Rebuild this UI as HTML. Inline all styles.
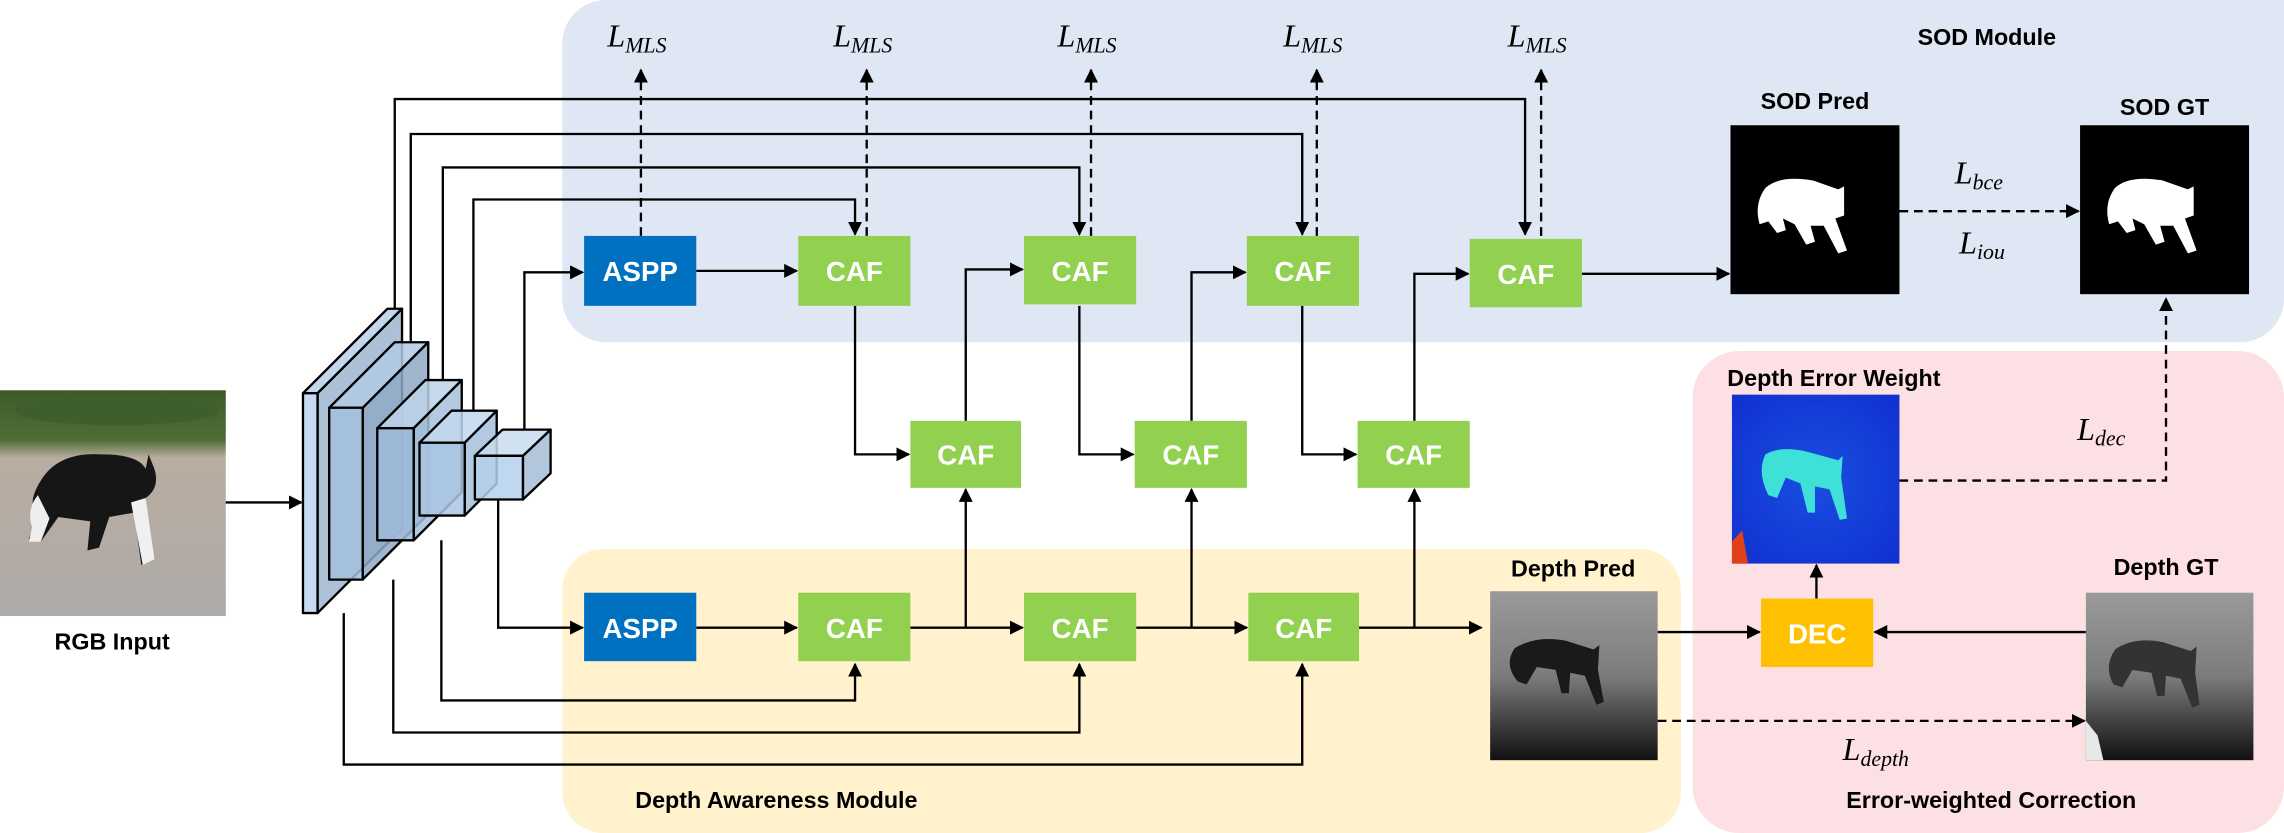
<!DOCTYPE html>
<html><head><meta charset="utf-8"><style>
html,body{margin:0;padding:0;background:#fff;width:2284px;height:833px;overflow:hidden;}
svg{display:block;}
.lbl{font-family:"Liberation Sans",sans-serif;font-weight:bold;font-size:16px;fill:#000;}
.bx{font-family:"Liberation Sans",sans-serif;font-weight:bold;font-size:19px;fill:#fff;}
.m{font-family:"Liberation Serif",serif;font-style:italic;font-size:22px;fill:#000;}
.ms{font-size:15px;}
</style></head><body>
<svg width="2284" height="833" viewBox="0 0 1568 572" preserveAspectRatio="none" xmlns="http://www.w3.org/2000/svg">
<defs>
<marker id="a" viewBox="0 0 10 10" refX="9" refY="5" markerWidth="6" markerHeight="6" orient="auto-start-reverse"><path d="M0,0 L10,5 L0,10 z" fill="#000"/></marker>
<linearGradient id="road" x1="0" y1="0" x2="0" y2="1"><stop offset="0" stop-color="#3d5a2a"/><stop offset="0.22" stop-color="#4f6e35"/><stop offset="0.3" stop-color="#b9ada0"/><stop offset="1" stop-color="#aeaaa8"/></linearGradient>
<linearGradient id="dep" x1="0" y1="0" x2="0" y2="1"><stop offset="0" stop-color="#9a9a9a"/><stop offset="0.5" stop-color="#7c7c7c"/><stop offset="1" stop-color="#101010"/></linearGradient>
<radialGradient id="dew" cx="0.5" cy="0.5" r="0.7"><stop offset="0" stop-color="#1a4ee0"/><stop offset="1" stop-color="#1030d0"/></radialGradient>
</defs>
<!-- panels -->
<rect x="386" y="0" width="1182" height="235" rx="30" fill="#dfe7f4"/>
<rect x="1500" y="0" width="68" height="60" fill="#dfe7f4"/>
<rect x="386" y="377" width="768" height="195" rx="28" fill="#fff2cc"/>
<rect x="1162" y="241" width="406" height="331" rx="32" fill="#fde0e3"/>

<!-- RGB input image -->
<rect x="0" y="268" width="155" height="155" fill="url(#road)"/>
<ellipse cx="80" cy="282" rx="70" ry="10" fill="#3e5f2c"/>
<path d="M28,330 Q40,310 70,312 Q95,312 100,322 L102,312 L106,322 Q110,335 100,342 L104,385 L97,388 L92,352 L75,355 L68,376 L60,378 L62,358 L40,355 L28,372 L20,370 L26,352 Q18,346 28,330 z" fill="#161616"/>
<path d="M26,340 Q18,350 22,362 L20,372 L28,372 L34,356 z" fill="#eee"/>
<path d="M90,345 L100,342 L106,384 L98,388 z" fill="#f0f0f0"/>

<!-- backbone slabs -->
<g stroke="#000" stroke-width="1.6" stroke-linejoin="round">
<g fill-opacity="0.85">
<path d="M218,270 L276,212 L276,363 L218,421 z" fill="#9fb6cf"/>
<path d="M208,270 L266,212 L276,212 L218,270 z" fill="#b8d0ea"/>
<rect x="208" y="270" width="10" height="151" fill="#bcd5ee"/>
<path d="M249,280 L294,235 L294,353 L249,398 z" fill="#8fa9c6"/>
<path d="M226,280 L271,235 L294,235 L249,280 z" fill="#b0c9e3"/>
<rect x="226" y="280" width="23" height="118" fill="#a3c0dd"/>
<path d="M284,294 L317,261 L317,338 L284,371 z" fill="#a5bfd9"/>
<path d="M259,294 L292,261 L317,261 L284,294 z" fill="#bcd3ea"/>
<rect x="259" y="294" width="25" height="77" fill="#9dbcdb"/>
<path d="M319,304 L341,282 L341,332 L319,354 z" fill="#a5bfd9"/>
<path d="M288,304 L310,282 L341,282 L319,304 z" fill="#c2d8ee"/>
<rect x="288" y="304" width="31" height="50" fill="#a9c6e3"/>
<path d="M359,313 L378,295 L378,325 L359,343 z" fill="#a5bdd6"/>
<path d="M326,313 L345,295 L378,295 L359,313 z" fill="#c8dcf0"/>
<rect x="326" y="313" width="33" height="30" fill="#b4d0ec"/>
</g>
</g>

<!-- connectors -->
<g stroke="#000" stroke-width="1.6" fill="none">
<line x1="155" y1="345" x2="207" y2="345" marker-end="url(#a)"/>
<polyline points="271,212 271,68 1047,68 1047,161" marker-end="url(#a)"/>
<polyline points="282,235 282,92 894,92 894,161" marker-end="url(#a)"/>
<polyline points="304,261 304,115 741,115 741,161" marker-end="url(#a)"/>
<polyline points="325,282 325,137 587,137 587,161" marker-end="url(#a)"/>
<polyline points="360,295 360,187 400,187" marker-end="url(#a)"/>
<polyline points="342,343 342,431 400,431" marker-end="url(#a)"/>
<polyline points="303,371 303,481 587,481 587,456" marker-end="url(#a)"/>
<polyline points="270,398 270,503 741,503 741,456" marker-end="url(#a)"/>
<polyline points="236,421 236,525 894,525 894,456" marker-end="url(#a)"/>
<line x1="478" y1="186" x2="547" y2="186" marker-end="url(#a)"/>
<polyline points="587,210 587,312 624,312" marker-end="url(#a)"/>
<polyline points="663,289 663,185 702,185" marker-end="url(#a)"/>
<polyline points="741,210 741,312 778,312" marker-end="url(#a)"/>
<polyline points="818,289 818,187 855,187" marker-end="url(#a)"/>
<polyline points="894,210 894,312 931,312" marker-end="url(#a)"/>
<polyline points="971,289 971,188 1008,188" marker-end="url(#a)"/>
<line x1="1086" y1="188" x2="1187" y2="188" marker-end="url(#a)"/>
<line x1="478" y1="431" x2="547" y2="431" marker-end="url(#a)"/>
<line x1="625" y1="431" x2="702" y2="431" marker-end="url(#a)"/>
<line x1="780" y1="431" x2="856" y2="431" marker-end="url(#a)"/>
<line x1="933" y1="431" x2="1017" y2="431" marker-end="url(#a)"/>
<line x1="663" y1="431" x2="663" y2="336" marker-end="url(#a)"/>
<line x1="818" y1="431" x2="818" y2="336" marker-end="url(#a)"/>
<line x1="971" y1="431" x2="971" y2="336" marker-end="url(#a)"/>
<line x1="1138" y1="434" x2="1208" y2="434" marker-end="url(#a)"/>
<line x1="1432" y1="434" x2="1287" y2="434" marker-end="url(#a)"/>
<line x1="1247" y1="411" x2="1247" y2="388" marker-end="url(#a)"/>
</g>
<g stroke="#000" stroke-width="1.6" fill="none" stroke-dasharray="6,4">
<line x1="440" y1="162" x2="440" y2="48" marker-end="url(#a)"/>
<line x1="595" y1="162" x2="595" y2="48" marker-end="url(#a)"/>
<line x1="749" y1="162" x2="749" y2="48" marker-end="url(#a)"/>
<line x1="904" y1="162" x2="904" y2="48" marker-end="url(#a)"/>
<line x1="1058" y1="162" x2="1058" y2="48" marker-end="url(#a)"/>
<line x1="1304" y1="145" x2="1427" y2="145" marker-end="url(#a)"/>
<polyline points="1304,330 1487,330 1487,205" marker-end="url(#a)"/>
<line x1="1138" y1="495" x2="1431" y2="495" marker-end="url(#a)"/>
</g>

<!-- boxes -->
<g>
<rect x="401" y="162" width="77" height="48" fill="#0070c0"/><text class="bx" x="439.5" y="193" text-anchor="middle">ASPP</text>
<rect x="401" y="407" width="77" height="47" fill="#0070c0"/><text class="bx" x="439.5" y="438" text-anchor="middle">ASPP</text>
<rect x="548" y="162" width="77" height="48" fill="#92d050"/><text class="bx" x="586.5" y="193" text-anchor="middle">CAF</text>
<rect x="703" y="162" width="77" height="47" fill="#92d050"/><text class="bx" x="741.5" y="193" text-anchor="middle">CAF</text>
<rect x="856" y="162" width="77" height="48" fill="#92d050"/><text class="bx" x="894.5" y="193" text-anchor="middle">CAF</text>
<rect x="1009" y="164" width="77" height="47" fill="#92d050"/><text class="bx" x="1047.5" y="195" text-anchor="middle">CAF</text>
<rect x="625" y="289" width="76" height="46" fill="#92d050"/><text class="bx" x="663" y="319" text-anchor="middle">CAF</text>
<rect x="779" y="289" width="77" height="46" fill="#92d050"/><text class="bx" x="817.5" y="319" text-anchor="middle">CAF</text>
<rect x="932" y="289" width="77" height="46" fill="#92d050"/><text class="bx" x="970.5" y="319" text-anchor="middle">CAF</text>
<rect x="548" y="407" width="77" height="47" fill="#92d050"/><text class="bx" x="586.5" y="438" text-anchor="middle">CAF</text>
<rect x="703" y="407" width="77" height="47" fill="#92d050"/><text class="bx" x="741.5" y="438" text-anchor="middle">CAF</text>
<rect x="857" y="407" width="76" height="47" fill="#92d050"/><text class="bx" x="895" y="438" text-anchor="middle">CAF</text>
<rect x="1209" y="411" width="77" height="47" fill="#ffc000"/><text class="bx" x="1247.5" y="442" text-anchor="middle">DEC</text>
</g>

<!-- SOD pred / GT -->
<rect x="1188" y="86" width="116" height="116" fill="#000"/>
<path d="M1212,129 Q1222,120 1245,124 L1262,130 L1266,128 L1266,148 L1260,150 L1268,172 L1262,174 L1252,155 L1243,155 L1246,166 L1240,168 L1232,154 L1224,150 L1226,158 L1220,160 L1214,152 L1208,154 Q1204,140 1212,129 z" fill="#fff"/>
<rect x="1428" y="86" width="116" height="116" fill="#000"/>
<path d="M1452,129 Q1462,120 1485,124 L1502,130 L1506,128 L1506,148 L1500,150 L1508,172 L1502,174 L1492,155 L1483,155 L1486,166 L1480,168 L1472,154 L1464,150 L1466,158 L1460,160 L1454,152 L1448,154 Q1444,140 1452,129 z" fill="#fff"/>

<!-- Depth error weight -->
<rect x="1189" y="271" width="115" height="116" fill="url(#dew)"/>
<path d="M1212,312 Q1222,306 1240,310 L1262,316 L1265,313 L1264,328 L1268,356 L1263,357 L1256,336 L1246,334 L1246,352 L1241,352 L1236,332 L1226,328 L1220,342 L1214,340 Q1206,324 1212,312 z" fill="#3ee0d8"/>
<path d="M1189,372 L1196,364 L1200,387 L1189,387 z" fill="#e0401a"/>

<!-- Depth pred / GT -->
<rect x="1023" y="406" width="115" height="116" fill="url(#dep)"/>
<path d="M1040,445 Q1055,436 1075,440 L1094,446 L1098,443 L1097,460 L1101,482 L1096,484 L1088,464 L1078,462 L1077,476 L1072,476 L1068,460 L1055,458 L1048,470 L1042,468 Q1032,456 1040,445 z" fill="#1a1a1a"/>
<rect x="1432" y="407" width="115" height="115" fill="url(#dep)"/>
<path d="M1452,446 Q1465,437 1485,441 L1504,447 L1508,444 L1507,462 L1510,484 L1505,486 L1497,466 L1487,464 L1486,478 L1481,478 L1477,462 L1464,460 L1457,472 L1451,470 Q1444,458 1452,446 z" fill="#333"/>
<path d="M1432,495 L1440,505 L1444,522 L1432,522 z" fill="#e8e8e8"/>

<!-- labels -->
<text class="lbl" x="77" y="446" text-anchor="middle">RGB Input</text>
<text class="lbl" x="1364" y="31" text-anchor="middle">SOD Module</text>
<text class="lbl" x="1246" y="75" text-anchor="middle">SOD Pred</text>
<text class="lbl" x="1486" y="79" text-anchor="middle">SOD GT</text>
<text class="lbl" x="1259" y="265" text-anchor="middle">Depth Error Weight</text>
<text class="lbl" x="1080" y="396" text-anchor="middle">Depth Pred</text>
<text class="lbl" x="1487" y="395" text-anchor="middle">Depth GT</text>
<text class="lbl" x="533" y="555" text-anchor="middle">Depth Awareness Module</text>
<text class="lbl" x="1367" y="555" text-anchor="middle">Error-weighted Correction</text>

<g class="m">
<text x="417" y="32">L<tspan class="ms" dy="4">MLS</tspan></text>
<text x="572" y="32">L<tspan class="ms" dy="4">MLS</tspan></text>
<text x="726" y="32">L<tspan class="ms" dy="4">MLS</tspan></text>
<text x="881" y="32">L<tspan class="ms" dy="4">MLS</tspan></text>
<text x="1035" y="32">L<tspan class="ms" dy="4">MLS</tspan></text>
<text x="1342" y="126">L<tspan class="ms" dy="4">bce</tspan></text>
<text x="1345" y="174">L<tspan class="ms" dy="4">iou</tspan></text>
<text x="1426" y="302">L<tspan class="ms" dy="4">dec</tspan></text>
<text x="1265" y="522">L<tspan class="ms" dy="4">depth</tspan></text>
</g>
</svg>
</body></html>
